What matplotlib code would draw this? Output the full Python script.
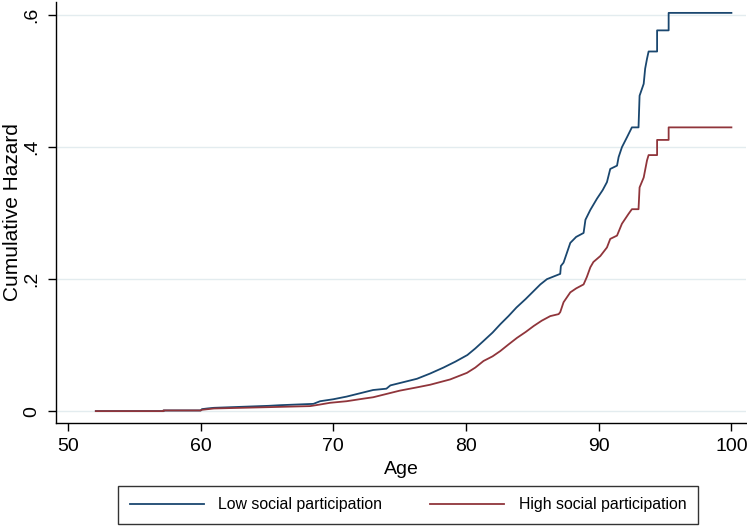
import matplotlib
matplotlib.use("Agg")
import matplotlib.pyplot as plt

plt.rcParams['font.family'] = ['Liberation Sans', 'DejaVu Sans']

low_age = [52.1, 57.2, 57.2, 60.0, 60.1, 60.5, 61.0, 65.1, 66.0, 68.5, 69.0, 70.0, 71.0,
           72.0, 73.0, 74.0, 74.3, 75.3, 76.3, 77.3, 78.3, 79.2, 80.1, 80.7, 81.3, 82.0,
           82.6, 83.2, 83.8, 84.5, 85.1, 85.6, 86.1, 87.1, 87.15, 87.35, 87.86, 88.3,
           88.86, 89.0, 89.37, 89.87, 90.3, 90.62, 90.87, 91.38, 91.5, 91.75, 92.13,
           92.5, 93.0, 93.08, 93.39, 93.5, 93.64, 93.76, 94.4, 94.4, 95.27, 95.27, 100.0]
low_haz = [0.000, 0.000, 0.001, 0.001, 0.003, 0.004, 0.005, 0.008, 0.009, 0.011, 0.015,
           0.018, 0.022, 0.027, 0.032, 0.034, 0.039, 0.044, 0.049, 0.057, 0.066, 0.075,
           0.085, 0.095, 0.106, 0.119, 0.132, 0.144, 0.157, 0.170, 0.182, 0.192, 0.200,
           0.208, 0.220, 0.225, 0.255, 0.264, 0.270, 0.290, 0.305, 0.322, 0.335, 0.347,
           0.367, 0.372, 0.385, 0.400, 0.415, 0.430, 0.430, 0.478, 0.496, 0.519, 0.534,
           0.545, 0.545, 0.577, 0.577, 0.6035, 0.6035]

high_age = [52.1, 57.2, 57.2, 60.0, 60.1, 61.0, 65.1, 68.25, 69.0, 69.75, 71.0, 72.3,
            73.0, 74.0, 75.0, 76.3, 77.3, 78.8, 80.07, 80.7, 81.32, 82.0, 82.58, 83.2,
            83.84, 84.5, 85.1, 85.7, 86.35, 86.98, 87.1, 87.35, 87.86, 88.3, 88.86, 89.1,
            89.37, 89.6, 90.12, 90.62, 90.87, 91.38, 91.75, 92.25, 92.5, 93.0, 93.08,
            93.39, 93.64, 93.76, 94.4, 94.4, 95.27, 95.27, 100.0]
high_haz = [0.000, 0.000, 0.001, 0.001, 0.002, 0.004, 0.006, 0.0076, 0.010, 0.0126,
            0.015, 0.019, 0.021, 0.026, 0.031, 0.036, 0.040, 0.048, 0.058, 0.066, 0.076,
            0.083, 0.091, 0.101, 0.111, 0.120, 0.129, 0.137, 0.144, 0.147, 0.150, 0.165,
            0.180, 0.186, 0.192, 0.203, 0.218, 0.226, 0.235, 0.248, 0.261, 0.266, 0.284,
            0.299, 0.306, 0.306, 0.339, 0.354, 0.380, 0.388, 0.388, 0.411, 0.411, 0.430,
            0.430]

xticks = [50, 60, 70, 80, 90, 100]
yticks = [0, 0.2, 0.4, 0.6]
ytick_labels = ['0', '.2', '.4', '.6']
series_labels = ['Low social participation', 'High social participation']

fig = plt.figure(figsize=(7.47, 5.26), dpi=100)
ax = fig.add_axes([56/747, 1-423/526, (746-56)/747, (423-2)/526])

navy = '#1a476f'
maroon = '#90353b'

ax.plot(low_age, low_haz, color=navy, lw=1.3, label=series_labels[0])
ax.plot(high_age, high_haz, color=maroon, lw=1.3, label=series_labels[1])

ax.set_xlim(49.1, 101.1)
ax.set_ylim(-0.018, 0.62)

ax.set_yticks(yticks)
ax.set_yticklabels(ytick_labels, rotation=90, va='center')
ax.set_xticks(xticks)
ax.yaxis.grid(True, color='#e3ecef', lw=1)
ax.set_axisbelow(True)

for s in ['top', 'right']:
    ax.spines[s].set_visible(False)
for s in ['left', 'bottom']:
    ax.spines[s].set_color('black')
    ax.spines[s].set_linewidth(1)

ax.tick_params(axis='both', direction='out', length=6, width=1, labelsize=14, pad=5)

ax.set_xlabel('Age', fontsize=14, labelpad=4)
ax.set_ylabel('Cumulative Hazard', fontsize=15)
ax.yaxis.set_label_coords(-0.049, 0.5)

leg = fig.legend(loc='center', bbox_to_anchor=(408/747, 1-505/526), ncol=2, frameon=True,
                 fancybox=False, edgecolor='black', fontsize=11.4, handlelength=4.7,
                 columnspacing=3.0, handletextpad=0.9, borderpad=0.75)
leg.get_frame().set_linewidth(1)

fig.savefig('out.png', dpi=100, facecolor='white')
